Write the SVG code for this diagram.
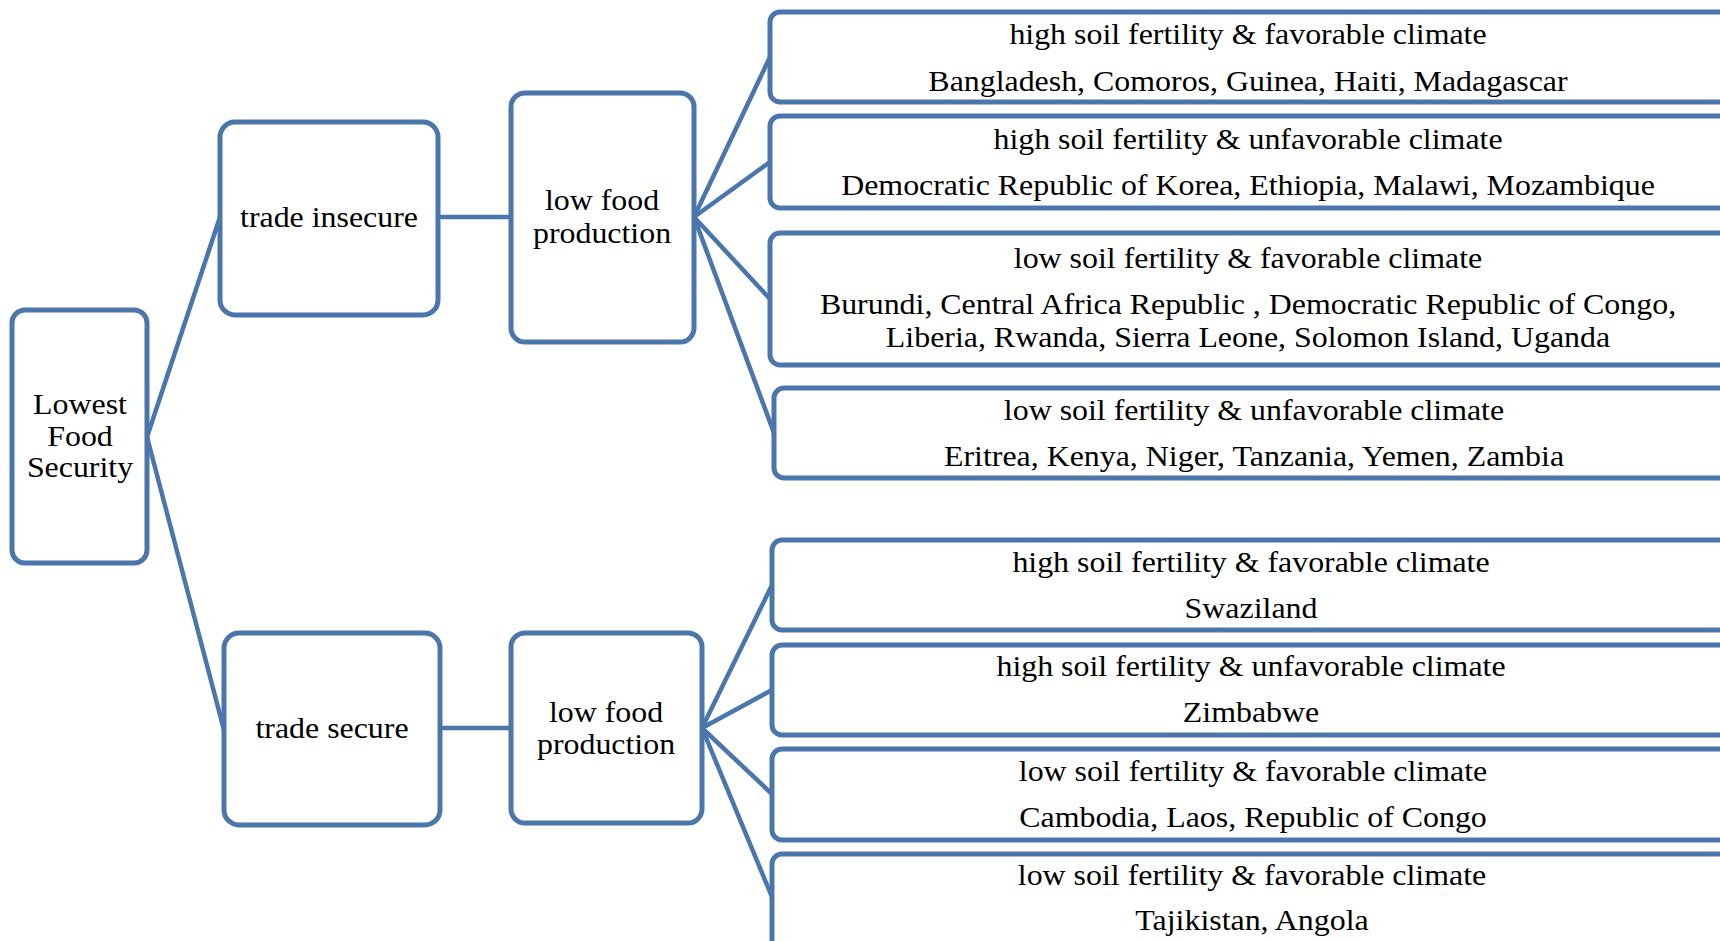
<svg xmlns="http://www.w3.org/2000/svg" width="1720" height="941" viewBox="0 0 1720 941">
  <style>
    .box { fill: #ffffff; stroke: #4A76AC; stroke-width: 5; }
    .link { stroke: #4A76AC; stroke-width: 4.5; fill: none; stroke-linecap: round; }
    .lbl { font-family: "Liberation Serif", "Times New Roman", serif; font-size: 29px; fill: #000000; text-anchor: middle; }
  </style>
  <rect width="1720" height="941" fill="#ffffff"/>

  <!-- connectors -->
  <g id="connectors">
    <line class="link" x1="147" y1="437" x2="220" y2="217"/>
    <line class="link" x1="147" y1="437" x2="224" y2="730"/>
    <line class="link" x1="438" y1="217" x2="511" y2="217"/>
    <line class="link" x1="440" y1="728" x2="511" y2="728"/>
    <!-- upper fan -->
    <line class="link" x1="694" y1="217" x2="770" y2="57"/>
    <line class="link" x1="694" y1="217" x2="770" y2="162"/>
    <line class="link" x1="694" y1="217" x2="770" y2="299"/>
    <line class="link" x1="694" y1="217" x2="774" y2="433"/>
    <!-- lower fan -->
    <line class="link" x1="702" y1="728" x2="772" y2="585"/>
    <line class="link" x1="702" y1="728" x2="772" y2="690"/>
    <line class="link" x1="702" y1="728" x2="772" y2="794"/>
    <line class="link" x1="702" y1="728" x2="772" y2="897"/>
  </g>

  <!-- root -->
  <g id="node-lowest">
    <rect class="box" x="12" y="310" width="135" height="253" rx="13"/>
    <g transform="translate(80 0) scale(1.1 1)">
      <text class="lbl" x="0" y="414">Lowest</text>
      <text class="lbl" x="0" y="446">Food</text>
      <text class="lbl" x="0" y="477">Security</text>
    </g>
  </g>

  <!-- trade branches -->
  <g id="node-trade-insecure">
    <rect class="box" x="220" y="122" width="218" height="193" rx="15"/>
    <g transform="translate(329 0) scale(1.1 1)">
      <text class="lbl" x="0" y="227">trade insecure</text>
    </g>
  </g>
  <g id="node-trade-secure">
    <rect class="box" x="224" y="633" width="216" height="192" rx="15"/>
    <g transform="translate(332 0) scale(1.1 1)">
      <text class="lbl" x="0" y="738">trade secure</text>
    </g>
  </g>

  <!-- production nodes -->
  <g id="node-production-1">
    <rect class="box" x="511" y="93" width="183" height="249" rx="14"/>
    <g transform="translate(602 0) scale(1.1 1)">
      <text class="lbl" x="0" y="210">low food</text>
      <text class="lbl" x="0" y="243">production</text>
    </g>
  </g>
  <g id="node-production-2">
    <rect class="box" x="511" y="633" width="191" height="190" rx="14"/>
    <g transform="translate(606 0) scale(1.1 1)">
      <text class="lbl" x="0" y="722">low food</text>
      <text class="lbl" x="0" y="754">production</text>
    </g>
  </g>

  <!-- soil / climate groups, trade insecure -->
  <g id="node-ti-high-fav">
    <rect class="box" x="770" y="12" width="1000" height="90" rx="10"/>
    <g transform="translate(1248 0) scale(1.1 1)">
      <text class="lbl" x="0" y="44">high soil fertility &amp; favorable climate</text>
      <text class="lbl" x="0" y="91">Bangladesh, Comoros, Guinea, Haiti, Madagascar</text>
    </g>
  </g>
  <g id="node-ti-high-unfav">
    <rect class="box" x="770" y="116" width="1000" height="92" rx="10"/>
    <g transform="translate(1248 0) scale(1.1 1)">
      <text class="lbl" x="0" y="149">high soil fertility &amp; unfavorable climate</text>
      <text class="lbl" x="0" y="195">Democratic Republic of Korea, Ethiopia, Malawi, Mozambique</text>
    </g>
  </g>
  <g id="node-ti-low-fav">
    <rect class="box" x="770" y="233" width="1000" height="132" rx="10"/>
    <g transform="translate(1248 0) scale(1.1 1)">
      <text class="lbl" x="0" y="268">low soil fertility &amp; favorable climate</text>
      <text class="lbl" x="0" y="314">Burundi, Central Africa Republic , Democratic Republic of Congo,</text>
      <text class="lbl" x="0" y="347">Liberia, Rwanda, Sierra Leone, Solomon Island, Uganda</text>
    </g>
  </g>
  <g id="node-ti-low-unfav">
    <rect class="box" x="774" y="388" width="1000" height="90" rx="10"/>
    <g transform="translate(1254 0) scale(1.1 1)">
      <text class="lbl" x="0" y="420">low soil fertility &amp; unfavorable climate</text>
      <text class="lbl" x="0" y="466">Eritrea, Kenya, Niger, Tanzania, Yemen, Zambia</text>
    </g>
  </g>

  <!-- soil / climate groups, trade secure -->
  <g id="node-ts-high-fav">
    <rect class="box" x="772" y="540" width="1000" height="90" rx="10"/>
    <g transform="translate(1251 0) scale(1.1 1)">
      <text class="lbl" x="0" y="572">high soil fertility &amp; favorable climate</text>
      <text class="lbl" x="0" y="618">Swaziland</text>
    </g>
  </g>
  <g id="node-ts-high-unfav">
    <rect class="box" x="772" y="645" width="1000" height="90" rx="10"/>
    <g transform="translate(1251 0) scale(1.1 1)">
      <text class="lbl" x="0" y="676">high soil fertility &amp; unfavorable climate</text>
      <text class="lbl" x="0" y="722">Zimbabwe</text>
    </g>
  </g>
  <g id="node-ts-low-fav">
    <rect class="box" x="772" y="749" width="1000" height="91" rx="10"/>
    <g transform="translate(1253 0) scale(1.1 1)">
      <text class="lbl" x="0" y="781">low soil fertility &amp; favorable climate</text>
      <text class="lbl" x="0" y="827">Cambodia, Laos, Republic of Congo</text>
    </g>
  </g>
  <g id="node-ts-low-fav-2">
    <rect class="box" x="772" y="854" width="1000" height="120" rx="10"/>
    <g transform="translate(1252 0) scale(1.1 1)">
      <text class="lbl" x="0" y="885">low soil fertility &amp; favorable climate</text>
      <text class="lbl" x="0" y="930">Tajikistan, Angola</text>
    </g>
  </g>
</svg>
